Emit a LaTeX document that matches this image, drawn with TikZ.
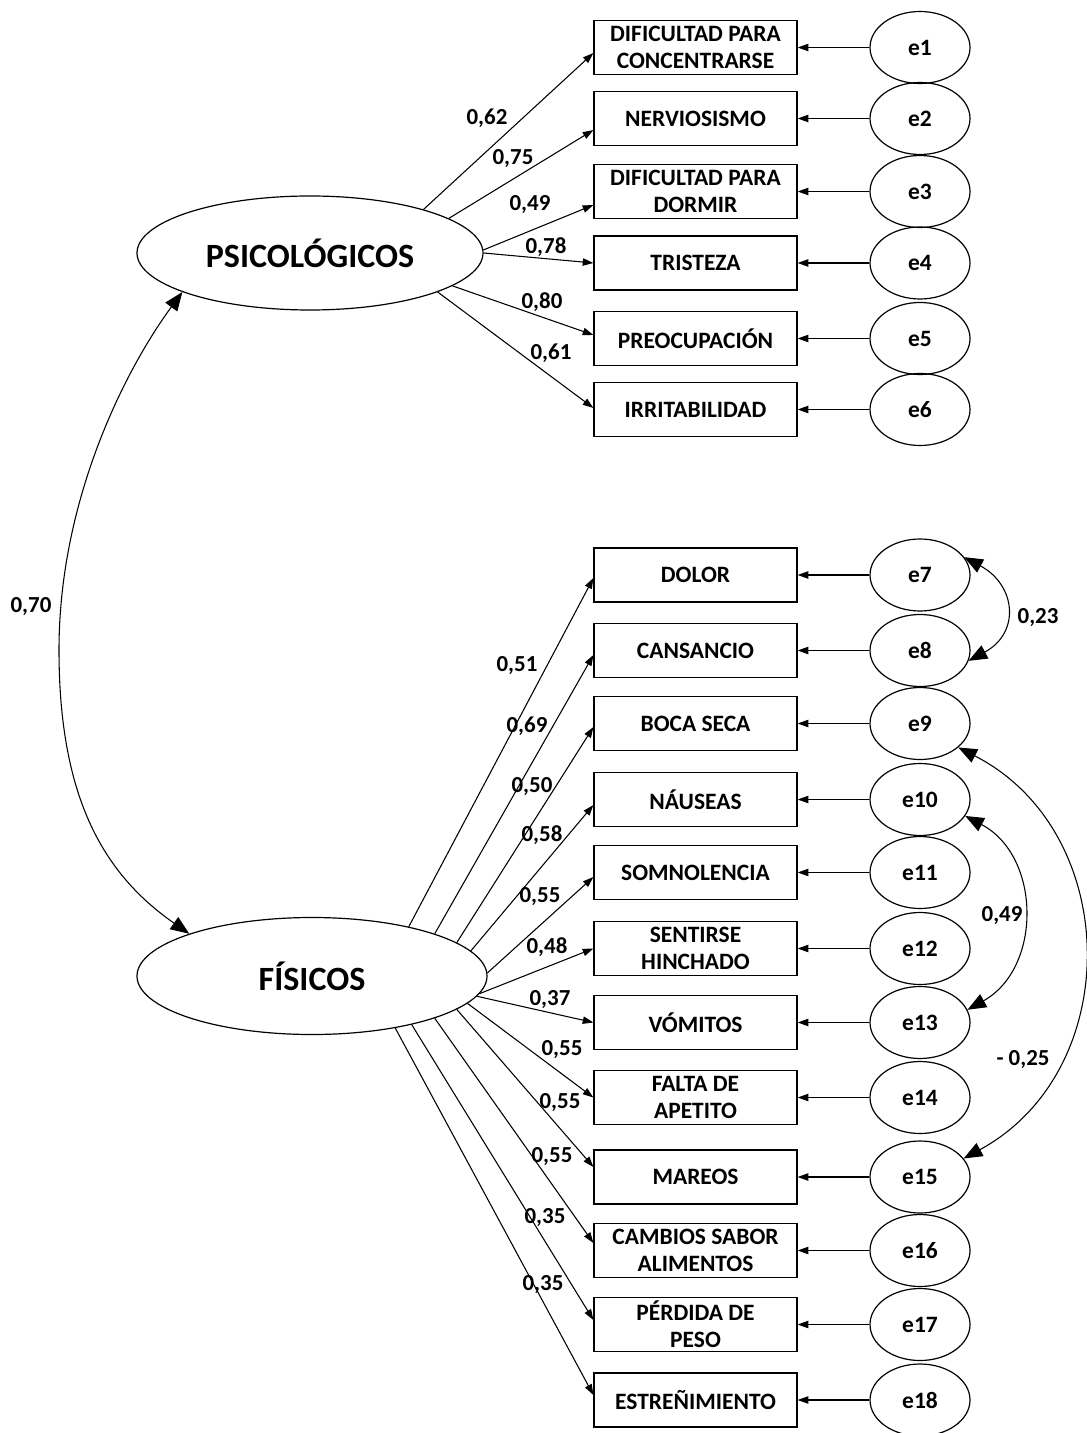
\documentclass[tikz,border=0pt]{standalone}
\usepackage{fontspec}
\setmainfont{Carlito}
\usetikzlibrary{arrows.meta,shapes.geometric,calc}
\begin{document}
\begin{tikzpicture}[x=0.75pt,y=-0.75pt,
  obs/.style={draw, line width=0.9pt, minimum width=152.25pt, minimum height=40.5pt, inner sep=0pt, align=center, font=\bfseries\fontsize{17.6}{20.25}\selectfont},
  err/.style={draw, ellipse, line width=0.9pt, minimum width=75pt, minimum height=54pt, inner sep=0pt, font=\bfseries\fontsize{17.6}{20.25}\selectfont},
  lat/.style={draw, ellipse, line width=0.9pt, inner sep=0pt, font=\bfseries\fontsize{25.5}{30}\selectfont},
  lab/.style={inner sep=0pt, font=\bfseries\fontsize{17.2}{20.25}\selectfont},
  load/.style={-{Triangle[length=8pt,width=5.5pt]}, line width=0.8pt},
  cov/.style={{Triangle[length=14pt,width=11pt]}-{Triangle[length=14pt,width=11pt]}, line width=0.8pt},
]
\useasboundingbox[fill=white] (0,0) rectangle (1086,1433);

% latent variables
\node[lat, minimum width=259.5pt, minimum height=85.5pt] (psi) at (310,253) {PSICOLÓGICOS};
\node[lat, minimum width=262.5pt, minimum height=87.75pt] (fis) at (312,976) {FÍSICOS};

% observed variables and errors
\foreach \i/\yb/\t in {
  1/47.5/{DIFICULTAD PARA\\CONCENTRARSE},
  2/118.5/{NERVIOSISMO},
  3/191.5/{DIFICULTAD PARA\\DORMIR},
  4/263/{TRISTEZA},
  5/338.5/{PREOCUPACIÓN},
  6/409.5/{IRRITABILIDAD},
  7/575/{DOLOR},
  8/650.5/{CANSANCIO},
  9/723.5/{BOCA SECA},
  10/799.5/{NÁUSEAS},
  11/872.5/{SOMNOLENCIA},
  12/948.5/{SENTIRSE\\HINCHADO},
  13/1022.5/{VÓMITOS},
  14/1097.5/{FALTA DE\\APETITO},
  15/1177/{MAREOS},
  16/1250.5/{CAMBIOS SABOR\\ALIMENTOS},
  17/1324.5/{PÉRDIDA DE\\PESO},
  18/1400/{ESTREÑIMIENTO}}{
  \node[obs] (b\i) at (695.5,\yb) {\t};
  \node[err] (e\i) at (920,\yb) {e\i};
  \draw[load] (e\i.west) -- (b\i.east);
}

% loadings
\foreach \i/\a/\d in {1/21.5/5.5, 2/14/11.5, 3/1.5/13.5, 4/-0.5/0, 5/-13/-3.5, 6/-17.6/-1.5}{
  \draw[load] (psi.\a) -- ($(b\i.west)+(0,\d)$);
}
\foreach \i/\a/\d in {7/27/3, 8/19/4.5, 9/13/3.5, 10/9/5.5, 11/1/4.5, 12/-6/0, 13/-7.5/0, 14/-10/0, 15/-13.9/-10, 16/-19/-7.5, 17/-26.6/-4.5, 18/-32.7/-5}{
  \draw[load] (fis.\a) -- ($(b\i.west)+(0,\d)$);
}

% loading labels
\foreach \n/\x/\y/\t in {
  l1/487/118/{0,62}, l2/513/159/{0,75}, l3/530/205/{0,49}, l4/546/247/{0,78},
  l5/542/302/{0,80}, l6/551/353/{0,61},
  l7/517/666/{0,51}, l8/527/726/{0,69}, l9/532/787/{0,50}, l10/542/835/{0,58},
  l11/540/897/{0,55}, l12/547/947/{0,48}, l13/550/1000/{0,37}, l14/562/1050/{0,55},
  l15/560/1103/{0,55}, l16/552/1157/{0,55}, l17/545/1218/{0,35}, l18/543/1285/{0,35},
  l70/31/607/{0,70}, l23/1038/618/{0,23}, l49/1002/916/{0,49}, l25/1023/1060/{- 0,25}}{
  \node[lab] (\n) at (\x,\y) {\t};
}

% correlation between factors
\coordinate (c70) at (59,650);
\draw[cov] (psi.197) .. controls (125,370) and (59,500) .. (c70)
  .. controls (59,800) and (105,875) .. (fis.161);

% error covariances
\draw[cov] (e7.22) .. controls +(52,28) and +(52,-28) .. (e8.-12);
\draw[cov] (e10.-20) .. controls +(76,40) and +(75,-42) .. (e13.15);
\draw[cov] (e9.-32) .. controls +(164,84) and +(162,-88) .. (e15.23);
\end{tikzpicture}
\end{document}
